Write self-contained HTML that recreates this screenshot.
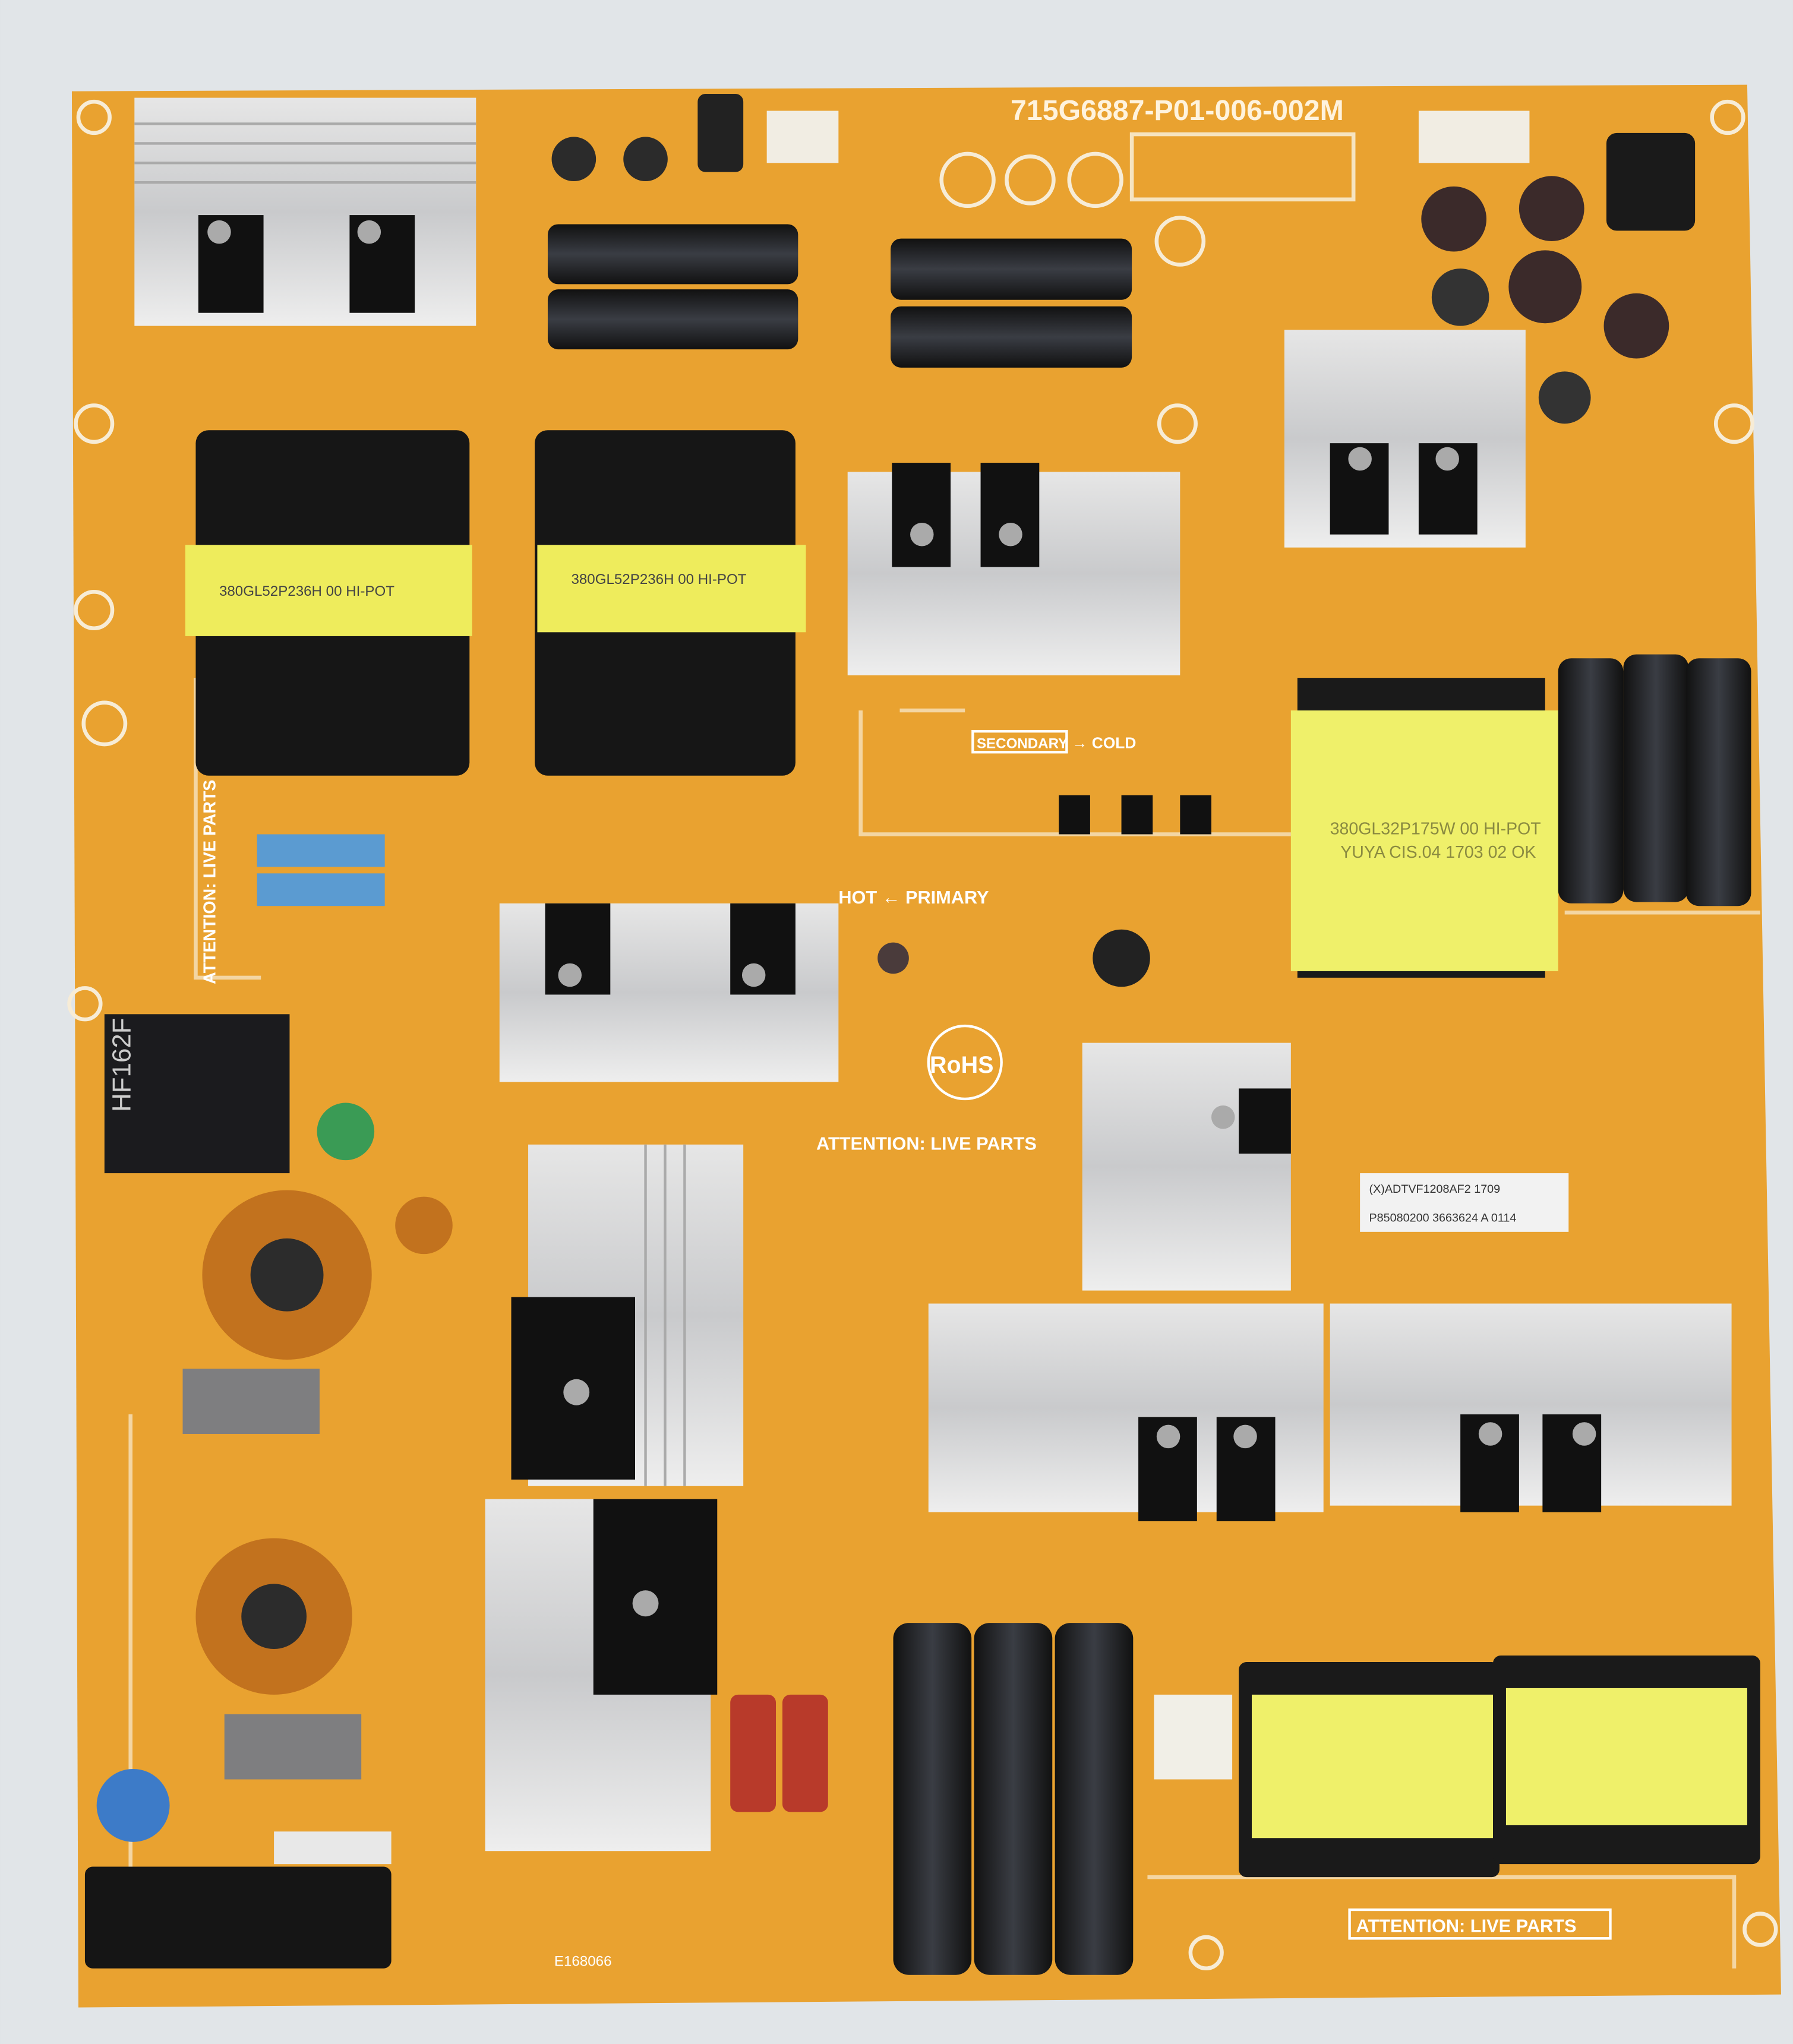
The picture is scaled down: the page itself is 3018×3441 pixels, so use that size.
<!DOCTYPE html>
<html><head><meta charset="utf-8"><style>
html,body{margin:0;padding:0;background:#dde2e6;}
svg{display:block}
text{font-family:"Liberation Sans",sans-serif}
</style></head><body>
<svg width="3018" height="3441" viewBox="0 0 1375 1568" xmlns="http://www.w3.org/2000/svg">
<defs>
<linearGradient id="hs" x1="0" y1="0" x2="0" y2="1"><stop offset="0" stop-color="#e6e6e6"/><stop offset=".5" stop-color="#c9cacc"/><stop offset="1" stop-color="#eeeeee"/></linearGradient>
<linearGradient id="cap" x1="0" y1="0" x2="1" y2="0"><stop offset="0" stop-color="#111"/><stop offset=".5" stop-color="#3a3d44"/><stop offset="1" stop-color="#111"/></linearGradient>
<linearGradient id="caph" x1="0" y1="0" x2="0" y2="1"><stop offset="0" stop-color="#111"/><stop offset=".5" stop-color="#3a3d44"/><stop offset="1" stop-color="#111"/></linearGradient>
</defs>
<rect width="1375" height="1568" fill="#e1e5e8"/>
<polygon points="55,70 1340,65 1366,1530 60,1540" fill="#e9a230"/>
<g fill="none" stroke="#f7ecd6" stroke-width="3">
<circle cx="72" cy="90" r="12"/><circle cx="1325" cy="90" r="12"/><circle cx="72" cy="325" r="14"/><circle cx="72" cy="468" r="14"/><circle cx="903" cy="325" r="14"/><circle cx="1330" cy="325" r="14"/><circle cx="925" cy="1498" r="12"/><circle cx="1350" cy="1480" r="12"/><circle cx="80" cy="555" r="16"/><circle cx="65" cy="770" r="12"/>
</g>
<g stroke="#f6e4c0" stroke-width="3" fill="none" opacity=".8">
<path d="M150,520 V750 H200 M660,545 V640 H990 M690,545 H740"/>
<path d="M100,1085 V1440 M880,1440 H1330 V1510 M1200,700 H1350"/>
</g>
<text x="775" y="92" font-size="22" fill="#fff3dd" font-weight="bold">715G6887-P01-006-002M</text>
<rect x="103" y="75" width="262" height="175" fill="url(#hs)"/>
<g stroke="#aaa" stroke-width="2"><line x1="103" y1="95" x2="365" y2="95"/><line x1="103" y1="110" x2="365" y2="110"/><line x1="103" y1="125" x2="365" y2="125"/><line x1="103" y1="140" x2="365" y2="140"/></g>
<rect x="152" y="165" width="50" height="75" fill="#111"/><rect x="268" y="165" width="50" height="75" fill="#111"/>
<circle cx="168" cy="178" r="9" fill="#aaa"/><circle cx="283" cy="178" r="9" fill="#aaa"/>
<circle cx="440" cy="122" r="17" fill="#2b2b2b"/><circle cx="495" cy="122" r="17" fill="#2b2b2b"/>
<rect x="535" y="72" width="35" height="60" rx="6" fill="#222"/>
<rect x="588" y="85" width="55" height="40" fill="#f1ede3"/>
<rect x="1088" y="85" width="85" height="40" fill="#f1ede3"/>
<rect x="868" y="103" width="170" height="50" fill="none" stroke="#f6e4c0" stroke-width="3"/>
<g fill="none" stroke="#f7ecd6" stroke-width="3"><circle cx="742" cy="138" r="20"/><circle cx="790" cy="138" r="18"/><circle cx="840" cy="138" r="20"/><circle cx="905" cy="185" r="18"/></g>
<rect x="420" y="172" width="192" height="46" rx="8" fill="url(#caph)"/>
<rect x="420" y="222" width="192" height="46" rx="8" fill="url(#caph)"/>
<rect x="683" y="183" width="185" height="47" rx="8" fill="url(#caph)"/>
<rect x="683" y="235" width="185" height="47" rx="8" fill="url(#caph)"/>
<circle cx="1115" cy="168" r="25" fill="#3b2a2a"/><circle cx="1190" cy="160" r="25" fill="#3b2a2a"/>
<rect x="1232" y="102" width="68" height="75" rx="8" fill="#1a1a1a"/>
<circle cx="1185" cy="220" r="28" fill="#3b2a2a"/><circle cx="1120" cy="228" r="22" fill="#333"/>
<circle cx="1255" cy="250" r="25" fill="#3b2a2a"/><circle cx="1200" cy="305" r="20" fill="#333"/>
<rect x="150" y="330" width="210" height="265" rx="10" fill="#161616"/>
<rect x="142" y="418" width="220" height="70" fill="#eeec5c"/>
<text x="168" y="457" font-size="11" fill="#444">380GL52P236H   00   HI-POT</text>
<rect x="410" y="330" width="200" height="265" rx="10" fill="#161616"/>
<rect x="412" y="418" width="206" height="67" fill="#eeec5c"/>
<text x="438" y="448" font-size="11" fill="#444">380GL52P236H   00   HI-POT</text>
<rect x="650" y="362" width="255" height="156" fill="url(#hs)"/>
<rect x="684" y="355" width="45" height="80" fill="#111"/><rect x="752" y="355" width="45" height="80" fill="#111"/>
<circle cx="707" cy="410" r="9" fill="#aaa"/><circle cx="775" cy="410" r="9" fill="#aaa"/>
<rect x="985" y="253" width="185" height="167" fill="url(#hs)"/>
<rect x="1020" y="340" width="45" height="70" fill="#111"/><rect x="1088" y="340" width="45" height="70" fill="#111"/>
<circle cx="1043" cy="352" r="9" fill="#aaa"/><circle cx="1110" cy="352" r="9" fill="#aaa"/>
<rect x="995" y="520" width="190" height="230" fill="#1a1a1a"/>
<rect x="990" y="545" width="205" height="200" fill="#eff06a"/>
<text x="1020" y="640" font-size="13" fill="#8a8a40">380GL32P175W   00   HI-POT</text>
<text x="1028" y="658" font-size="13" fill="#8a8a40">YUYA CIS.04 1703 02 OK</text>
<rect x="1195" y="505" width="50" height="188" rx="10" fill="url(#cap)"/>
<rect x="1245" y="502" width="50" height="190" rx="10" fill="url(#cap)"/>
<rect x="1293" y="505" width="50" height="190" rx="10" fill="url(#cap)"/>
<rect x="746" y="561" width="72" height="16" fill="none" stroke="#fff" stroke-width="2"/>
<text x="749" y="574" font-size="11" fill="#fff" font-weight="bold">SECONDARY</text>
<text x="822" y="574" font-size="12" fill="#fff" font-weight="bold">→ COLD</text>
<text x="643" y="693" font-size="14" fill="#fff" font-weight="bold">HOT ← PRIMARY</text>
<text x="626" y="882" font-size="14" fill="#fff" font-weight="bold">ATTENTION: LIVE PARTS</text>
<circle cx="740" cy="815" r="28" fill="none" stroke="#fff" stroke-width="2"/>
<text x="713" y="823" font-size="18" fill="#fff" font-weight="bold">RoHS</text>
<rect x="812" y="610" width="24" height="30" fill="#111"/><rect x="860" y="610" width="24" height="30" fill="#111"/><rect x="905" y="610" width="24" height="30" fill="#111"/>
<rect x="197" y="640" width="98" height="25" fill="#5b9bd1"/><rect x="197" y="670" width="98" height="25" fill="#5b9bd1"/>
<rect x="383" y="693" width="260" height="137" fill="url(#hs)"/>
<rect x="418" y="693" width="50" height="70" fill="#111"/><rect x="560" y="693" width="50" height="70" fill="#111"/>
<circle cx="437" cy="748" r="9" fill="#aaa"/><circle cx="578" cy="748" r="9" fill="#aaa"/>
<circle cx="860" cy="735" r="22" fill="#222"/>
<circle cx="685" cy="735" r="12" fill="#4a3b3b"/>
<rect x="80" y="778" width="142" height="122" fill="#1b1b1e"/>
<text x="92" y="845" font-size="20" fill="#ccc" transform="rotate(-90 100 845)">HF162F</text>
<circle cx="265" cy="868" r="22" fill="#3a9b55"/>
<rect x="830" y="800" width="160" height="190" fill="url(#hs)"/>
<rect x="950" y="835" width="40" height="50" fill="#111"/>
<circle cx="938" cy="857" r="9" fill="#aaa"/>
<rect x="1043" y="900" width="160" height="45" fill="#f2f2f2"/>
<text x="1050" y="915" font-size="9" fill="#333">(X)ADTVF1208AF2        1709</text>
<text x="1050" y="937" font-size="9" fill="#333">P85080200 3663624 A 0114</text>
<circle cx="220" cy="978" r="65" fill="#c2721e"/><circle cx="220" cy="978" r="28" fill="#2c2c2c"/>
<circle cx="210" cy="1240" r="60" fill="#c2721e"/><circle cx="210" cy="1240" r="25" fill="#2c2c2c"/>
<circle cx="325" cy="940" r="22" fill="#c2721e"/>
<rect x="140" y="1050" width="105" height="50" fill="#7e7e80"/>
<rect x="172" y="1315" width="105" height="50" fill="#7e7e80"/>
<circle cx="102" cy="1385" r="28" fill="#3d7bc8"/>
<rect x="405" y="878" width="165" height="262" fill="url(#hs)"/>
<g stroke="#aaa" stroke-width="2"><line x1="495" y1="878" x2="495" y2="1140"/><line x1="510" y1="878" x2="510" y2="1140"/><line x1="525" y1="878" x2="525" y2="1140"/></g>
<rect x="392" y="995" width="95" height="140" fill="#111"/>
<circle cx="442" cy="1068" r="10" fill="#aaa"/>
<rect x="712" y="1000" width="303" height="160" fill="url(#hs)"/>
<rect x="1020" y="1000" width="308" height="155" fill="url(#hs)"/>
<rect x="873" y="1087" width="45" height="80" fill="#111"/><rect x="933" y="1087" width="45" height="80" fill="#111"/>
<rect x="1120" y="1085" width="45" height="75" fill="#111"/><rect x="1183" y="1085" width="45" height="75" fill="#111"/>
<circle cx="896" cy="1102" r="9" fill="#aaa"/><circle cx="955" cy="1102" r="9" fill="#aaa"/><circle cx="1143" cy="1100" r="9" fill="#aaa"/><circle cx="1215" cy="1100" r="9" fill="#aaa"/>
<rect x="372" y="1150" width="173" height="270" fill="url(#hs)"/>
<rect x="455" y="1150" width="95" height="150" fill="#111"/>
<circle cx="495" cy="1230" r="10" fill="#aaa"/>
<rect x="560" y="1300" width="35" height="90" rx="6" fill="#b83a2a"/><rect x="600" y="1300" width="35" height="90" rx="6" fill="#b83a2a"/>
<rect x="685" y="1245" width="60" height="270" rx="12" fill="url(#cap)"/>
<rect x="747" y="1245" width="60" height="270" rx="12" fill="url(#cap)"/>
<rect x="809" y="1245" width="60" height="270" rx="12" fill="url(#cap)"/>
<rect x="885" y="1300" width="60" height="65" fill="#f1efe7"/>
<rect x="950" y="1275" width="200" height="165" rx="6" fill="#1a1a1a"/>
<rect x="960" y="1300" width="185" height="110" fill="#eff06a"/>
<rect x="1145" y="1270" width="205" height="160" rx="6" fill="#1a1a1a"/>
<rect x="1155" y="1295" width="185" height="105" fill="#eff06a"/>
<rect x="65" y="1432" width="235" height="78" rx="6" fill="#151515"/>
<rect x="210" y="1405" width="90" height="25" fill="#e8e8e8"/>
<rect x="1035" y="1465" width="200" height="22" fill="none" stroke="#fff" stroke-width="2"/>
<text x="1040" y="1482" font-size="14" fill="#fff" font-weight="bold">ATTENTION: LIVE PARTS</text>
<text x="155" y="745" font-size="13" fill="#fff" font-weight="bold" transform="rotate(-90 165 745)">ATTENTION: LIVE PARTS</text>
<text x="425" y="1508" font-size="11" fill="#fff">E168066</text>
</svg>
</body></html>
